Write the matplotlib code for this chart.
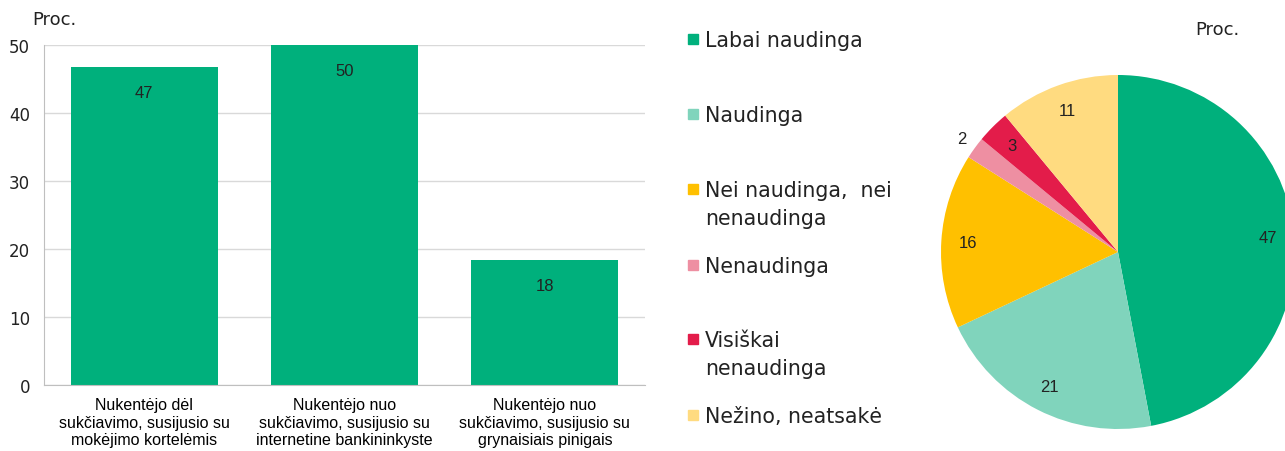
import matplotlib.pyplot as plt
from matplotlib.patches import Rectangle
import numpy as np

# bar chart data
categories = ['Nukentėjo dėl\nsukčiavimo, susijusio su\nmokėjimo kortelėmis',
              'Nukentėjo nuo\nsukčiavimo, susijusio su\ninternetine bankininkyste',
              'Nukentėjo nuo\nsukčiavimo, susijusio su\ngrynaisiais pinigais']
bar_values = [46.8, 50.0, 18.4]
yticks = [0, 10, 20, 30, 40, 50]

# pie chart data
pie_labels = ['Labai naudinga', 'Naudinga', 'Nei naudinga,  nei\nnenaudinga',
              'Nenaudinga', 'Visiškai\nnenaudinga', 'Nežino, neatsakė']
pie_values = [47, 21, 16, 2, 3, 11]
pie_colors = ['#00B07C', '#80D4BC', '#FFC000', '#EE8FA2', '#E31C4A', '#FFDB80']

W, H = 1285, 452
fig = plt.figure(figsize=(W / 100, H / 100), dpi=100)

arial = ['Liberation Sans', 'DejaVu Sans']

# ---- bar chart ----
ax = fig.add_axes([44 / W, (H - 386) / H, 601 / W, 340 / H])
x = np.arange(len(categories))
ax.bar(x, bar_values, width=0.735, color='#00B07C', zorder=2)
for xi, v in zip(x, bar_values):
    ax.text(xi, v - 2.7, f'{v:.0f}', ha='center', va='top', fontsize=12,
            family=arial, color='#222222')
ax.set_xlim(-0.5, 2.5)
ax.set_ylim(0, 50)
ax.set_yticks(yticks)
ax.yaxis.grid(True, color='#D9D9D9', linewidth=1, zorder=0)
ax.set_axisbelow(True)
ax.set_xticks(x)
ax.set_xticklabels(categories, family=arial, fontsize=11.5, linespacing=1.2)
ax.tick_params(axis='x', length=0, pad=9)
ax.tick_params(axis='y', length=0, pad=10, labelsize=12)
for s in ['top', 'right']:
    ax.spines[s].set_visible(False)
ax.spines['left'].set_color('#BFBFBF')
ax.spines['bottom'].set_color('#BFBFBF')
for lbl in ax.get_yticklabels():
    lbl.set_color('#222222')
fig.text(32 / W, 1 - 20 / H, 'Proc.', fontsize=13, ha='left', va='center',
         color='#222222')

# ---- legend ----
leg_y = [40, 115, 190, 266, 340, 416]
for lab, col, yy in zip(pie_labels, pie_colors, leg_y):
    fig.patches.append(Rectangle((688 / W, 1 - (yy + 5) / H), 10 / W, 10 / H,
                                 transform=fig.transFigure, color=col))
    fig.text(705 / W, 1 - (yy - 9) / H, lab, fontsize=14.8, ha='left',
             va='top', color='#222222', linespacing=1.5)

# ---- pie chart ----
cx, cy, r = 1118, 253, 177
pax = fig.add_axes([(cx - r) / W, (H - cy - r) / H, 2 * r / W, 2 * r / H])
wedges, _ = pax.pie(pie_values, colors=pie_colors, startangle=90,
                    counterclock=False, radius=1,
                    wedgeprops=dict(linewidth=0))
pax.set_xlim(-1, 1)
pax.set_ylim(-1, 1)
pax.set_aspect('equal')
pax.axis('off')
total = sum(pie_values)
cum = 0
for v in pie_values:
    mid = 90 - (cum + v / 2) / total * 360
    cum += v
    dist = 1.09 if v < 3 else 0.85
    pax.text(dist * np.cos(np.radians(mid)), dist * np.sin(np.radians(mid)),
             f'{v}', ha='center', va='center', fontsize=12, family=arial,
             color='#222222')
fig.text(1217 / W, 1 - 30 / H, 'Proc.', fontsize=13, ha='center',
         va='center', color='#222222')

fig.savefig('out.png', dpi=100)
